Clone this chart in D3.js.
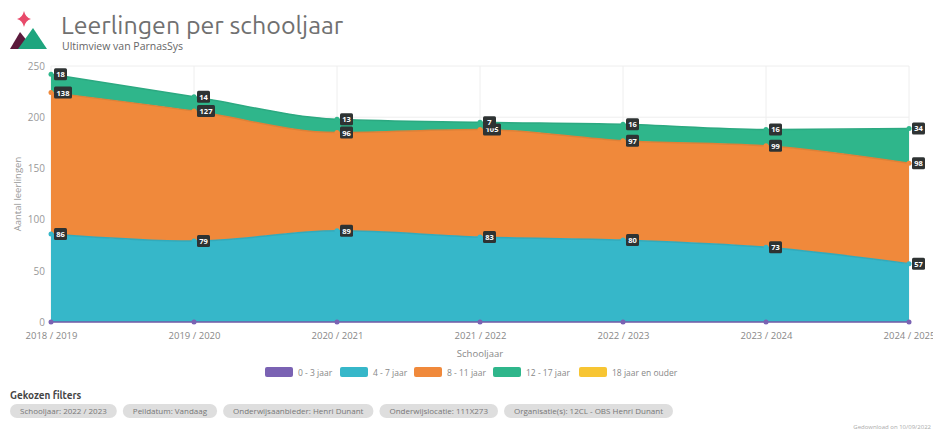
<!DOCTYPE html>
<html>
<head>
<meta charset="utf-8">
<script src="https://cdn.jsdelivr.net/npm/d3@7"></script>
<style>
  body { margin: 0; background: #fff; font-family: "Open Sans", sans-serif; }
  svg { display: block; }
</style>
</head>
<body>
<script>
(function(){

//data
var years = ["2018 / 2019", "2019 / 2020", "2020 / 2021", "2021 / 2022", "2022 / 2023", "2023 / 2024", "2024 / 2025"];
var seriesNames = ["0 - 3 jaar", "4 - 7 jaar", "8 - 11 jaar", "12 - 17 jaar", "18 jaar en ouder"];
var age0to3 = [0, 0, 0, 0, 0, 0, 0];
var age4to7 = [86, 79, 89, 83, 80, 73, 57];
var age8to11 = [138, 127, 96, 105, 97, 99, 98];
var age12to17 = [18, 14, 13, 7, 16, 16, 34];
var age18plus = [0, 0, 0, 0, 0, 0, 0];
var yTicks = [0, 50, 100, 150, 200, 250];
var filters = ["Schooljaar: 2022 / 2023", "Peildatum: Vandaag", "Onderwijsaanbieder: Henri Dunant", "Onderwijslocatie: 111X273", "Organisatie(s): 12CL - OBS Henri Dunant"];

var colors = ["#7a62b3", "#36b7c9", "#f0893b", "#2fb68b", "#f7c533"];

var width = 933, height = 432;

var svg = d3.select("body").append("svg")
    .attr("width", width)
    .attr("height", height);

//logo
var logo = svg.append("g");
logo.append("path")
    .attr("d", "M24,11 Q25.5,17.5 31,19 Q25.5,20.5 24,27 Q22.5,20.5 17,19 Q22.5,17.5 24,11 Z")
    .attr("fill", "#e84a6a");
logo.append("path")
    .attr("d", "M10,49 L20,32 L28,42 L26,49 Z")
    .attr("fill", "#5c1a3c");
logo.append("path")
    .attr("d", "M18,49 L33,28 L47,49 Z")
    .attr("fill", "#1ea57e");

//title
svg.append("text")
    .attr("x", 61).attr("y", 34)
    .attr("font-family", "Ubuntu, 'Open Sans', sans-serif")
    .attr("font-size", 25)
    .attr("fill", "#707070")
    .text("Leerlingen per schooljaar");
svg.append("text")
    .attr("x", 62).attr("y", 50)
    .attr("font-size", 10.5)
    .attr("fill", "#666")
    .text("Ultimview van ParnasSys");

//scales
var x = d3.scalePoint().domain(years).range([51, 909]);
var y = d3.scaleLinear().domain([0, 250]).range([322, 66]);

var plot = svg.append("g");

//gridlines
plot.selectAll(".hgrid")
    .data(yTicks)
    .enter().append("line")
    .attr("x1", 51).attr("x2", 909)
    .attr("y1", function(d){ return y(d); })
    .attr("y2", function(d){ return y(d); })
    .attr("stroke", "#eeeeee");
plot.selectAll(".vgrid")
    .data(years)
    .enter().append("line")
    .attr("x1", function(d){ return x(d); })
    .attr("x2", function(d){ return x(d); })
    .attr("y1", 66).attr("y2", 322)
    .attr("stroke", "#eeeeee");

//stack
var rows = years.map(function(yr, i){
    return { year: yr, s0: age0to3[i], s1: age4to7[i], s2: age8to11[i], s3: age12to17[i], s4: age18plus[i] };
});
var keys = ["s0", "s1", "s2", "s3", "s4"];
var stacked = d3.stack().keys(keys)(rows);

var area = d3.area()
    .curve(d3.curveMonotoneX)
    .x(function(d){ return x(d.data.year); })
    .y0(function(d){ return y(d[0]); })
    .y1(function(d){ return y(d[1]); });
var line = d3.line()
    .curve(d3.curveMonotoneX)
    .x(function(d){ return x(d.data.year); })
    .y(function(d){ return y(d[1]); });

stacked.forEach(function(s, i){
    plot.append("path")
        .datum(s)
        .attr("d", area)
        .attr("fill", colors[i]);
});
//lines and dots (the empty top series stays hidden under the green one)
[3, 2, 1, 0].forEach(function(i){
    var s = stacked[i];
    plot.append("path")
        .datum(s)
        .attr("d", line)
        .attr("fill", "none")
        .attr("stroke", d3.color(colors[i]).darker(0.2))
        .attr("stroke-width", 1.5);
    plot.selectAll(".dot" + i)
        .data(s)
        .enter().append("circle")
        .attr("cx", function(d){ return x(d.data.year); })
        .attr("cy", function(d){ return y(d[1]); })
        .attr("r", 2.5)
        .attr("fill", colors[i]);
});

//value labels
var labelSeries = [1, 2, 3];
labelSeries.forEach(function(i){
    var g = plot.selectAll(".lab" + i)
        .data(stacked[i])
        .enter().append("g")
        .attr("transform", function(d){
            return "translate(" + (x(d.data.year) + 3) + "," + y(d[1]) + ")";
        });
    g.append("rect")
        .attr("x", 0).attr("y", -6)
        .attr("rx", 1.5)
        .attr("width", function(d){ return String(d.data[keys[i]]).length > 2 ? 18 : 13; })
        .attr("height", 12)
        .attr("fill", "#2e3333");
    g.append("text")
        .attr("x", function(d){ return String(d.data[keys[i]]).length > 2 ? 9 : 6.5; })
        .attr("y", 3)
        .attr("text-anchor", "middle")
        .attr("font-size", 7.5)
        .attr("font-weight", "bold")
        .attr("fill", "#fff")
        .text(function(d){ return d.data[keys[i]]; });
});

//axes
var yAxis = svg.append("g")
    .attr("transform", "translate(45,0)")
    .call(d3.axisLeft(y).tickValues(yTicks).tickSize(0).tickPadding(0));
yAxis.select(".domain").remove();
yAxis.selectAll("text")
    .attr("font-family", "'Open Sans', sans-serif")
    .attr("font-size", 10)
    .attr("fill", "#999");

var xAxis = svg.append("g")
    .attr("transform", "translate(0,332)")
    .call(d3.axisBottom(x).tickSize(0).tickPadding(0));
xAxis.select(".domain").remove();
xAxis.selectAll("text")
    .attr("font-family", "'Open Sans', sans-serif")
    .attr("font-size", 9.5)
    .attr("fill", "#888");

svg.append("text")
    .attr("transform", "translate(21,194) rotate(-90)")
    .attr("text-anchor", "middle")
    .attr("font-size", 9.5)
    .attr("fill", "#999")
    .text("Aantal leerlingen");
svg.append("text")
    .attr("x", 480).attr("y", 357)
    .attr("text-anchor", "middle")
    .attr("font-size", 9.5)
    .attr("fill", "#888")
    .text("Schooljaar");

//legend
var legendX = [265, 340, 414, 493, 579];
var legend = svg.selectAll(".legend")
    .data(seriesNames)
    .enter().append("g")
    .attr("transform", function(d, i){ return "translate(" + legendX[i] + ",367)"; });
legend.append("rect")
    .attr("width", 28).attr("height", 10)
    .attr("rx", 2)
    .attr("fill", function(d, i){ return colors[i]; });
legend.append("text")
    .attr("x", 33).attr("y", 8.5)
    .attr("font-size", 8.5)
    .attr("fill", "#888")
    .text(function(d){ return d; });

//filters
svg.append("text")
    .attr("x", 10).attr("y", 399)
    .attr("font-family", "Ubuntu, 'Open Sans', sans-serif")
    .attr("font-size", 10)
    .attr("font-weight", "bold")
    .attr("fill", "#444")
    .text("Gekozen filters");

var px = 10;
filters.forEach(function(f){
    var t = svg.append("text")
        .attr("y", 414)
        .attr("font-size", 8)
        .attr("fill", "#777")
        .text(f);
    var w = t.node().getComputedTextLength() + 20;
    svg.insert("rect", "text")
        .attr("x", px).attr("y", 404)
        .attr("width", w).attr("height", 14)
        .attr("rx", 7)
        .attr("fill", "#dedede");
    t.attr("x", px + 10);
    px += w + 6;
});

svg.append("text")
    .attr("x", 931).attr("y", 429)
    .attr("text-anchor", "end")
    .attr("font-size", 6)
    .attr("fill", "#aaa")
    .text("Gedownload on 10/09/2022");

})();
</script>
</body>
</html>
